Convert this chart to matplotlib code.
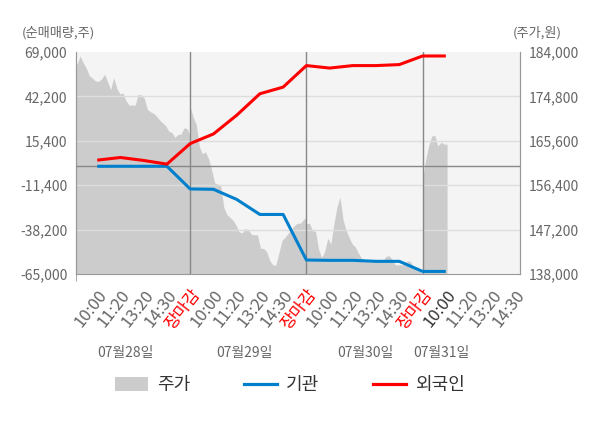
import numpy as np
import matplotlib
matplotlib.use('Agg')
import matplotlib.pyplot as plt
from matplotlib.patches import Patch
from matplotlib.lines import Line2D
import matplotlib.transforms as mtransforms

plt.rcParams['font.family'] = ['Noto Sans CJK KR', 'DejaVu Sans']

# ---------------- data ----------------
tick_labels = ['10:00', '11:20', '13:20', '14:30', '장마감'] * 3 + ['10:00', '11:20', '13:20', '14:30']
dates = ['07월28일', '07월29일', '07월30일', '07월31일']
date_pos = [2.2, 7.35, 12.55, 15.8]

price_d1 = [182500, 181400, 183200, 181800, 180700, 179100, 178600, 178000, 177900, 178400,
            179400, 177800, 176200, 178700, 176500, 175300, 175500, 173900, 173000, 173000,
            173000, 175200, 175100, 174400, 172100, 171600, 171300, 170700, 169900, 169300,
            168700, 167600, 167300, 166300, 166900, 167000, 168300, 168100, 166600]
price_d2 = [172700, 170400, 169000, 164400, 162900, 163300, 161900, 159600, 156900, 156600,
            156200, 151800, 150300, 149700, 149100, 148100, 146700, 146500, 147400, 147200,
            146200, 146100, 146100, 143300, 143300, 142600, 140800, 139900, 139800, 142300,
            144900, 145600, 146400, 147100, 148000, 148500, 148500, 149200, 149800]
price_d3 = [148400, 148500, 147000, 146800, 143100, 141400, 142700, 145400, 144200, 148300,
            151900, 153900, 149200, 147000, 145500, 144200, 143600, 142300, 141300, 141000,
            140700, 140400, 140900, 140800, 140600, 140600, 141600, 141800, 141000, 139900,
            139900, 139900, 139900, 140700, 140600, 139400, 138800, 138500, 138000]
price_d4 = [157600, 161700, 164600, 166600, 166700, 164500, 165300, 164900, 164900]

institution = [0, 0, 0, 0, -13700, -13900, -20000, -29100, -29100, -56600,
               -56800, -56800, -57400, -57400, -63500, -63500]
foreign = [3700, 5300, 3500, 1300, 13700, 19500, 30800, 43800, 47800, 60800,
           59300, 60800, 60800, 61400, 66600, 66600]

left_ticks = [-65000, -38200, -11400, 15400, 42200, 69000]
right_ticks = [138000, 147200, 156400, 165600, 174800, 184000]

# ---------------- figure ----------------
fig = plt.figure(figsize=(6.0, 4.28), dpi=100)
ax_p = fig.add_axes([0.126, 0.360, 0.741, 0.5185])
ax_n = ax_p.twinx()

GREY_TXT = '#666666'
SPINE = '#999999'

# price area (right axis)
per_day = len(price_d1)
step = 5.0 / (per_day - 1)
xs = []
ys = []
for d, arr in enumerate([price_d1, price_d2, price_d3]):
    xs.extend(d * 5 + np.arange(len(arr)) * step)
    ys.extend(arr)
xs.extend(15 + np.arange(len(price_d4)) * step)
ys.extend(price_d4)
ax_p.fill_between(xs, ys, right_ticks[0], color='#cccccc', linewidth=0, zorder=1)
ax_p.set_facecolor('#f4f4f4')
ax_p.set_ylim(right_ticks[0], right_ticks[-1])
ax_p.set_yticks(right_ticks)
ax_p.set_yticklabels([f'{v:,}' for v in right_ticks])
ax_p.yaxis.tick_right()

# net-buy lines (left axis)
ax_n.yaxis.tick_left()
ax_n.set_ylim(left_ticks[0], left_ticks[-1])
ax_n.set_yticks(left_ticks)
ax_n.set_yticklabels([f'{v:,}' for v in left_ticks])
for v in left_ticks[1:-1]:
    ax_n.axhline(v, color='#dddddd', lw=1.0, zorder=2)
ax_n.axhline(0, color='#888888', lw=1.0, zorder=3)
for b in [5, 10, 15]:
    ax_n.axvline(b, color='#888888', lw=1.0, zorder=3)

slots = np.arange(1, len(foreign) + 1)
ax_n.plot(slots, institution, color='#0080cc', lw=2.2, zorder=5, solid_capstyle='butt')
ax_n.plot(slots, foreign, color='#ff0000', lw=2.2, zorder=6, solid_capstyle='butt')

# x axis
ax_p.set_xlim(0.07, 19.2)
tick_pos = np.arange(1, len(tick_labels) + 1)
ax_p.set_xticks(tick_pos)
ax_p.set_xticklabels(tick_labels, rotation=52, ha='right', va='top', rotation_mode='anchor')
ax_p.set_xticks([0.07, 5, 10, 15], minor=True)
ax_p.tick_params(axis='x', which='major', length=0, pad=9, labelsize=12, labelcolor=GREY_TXT)
ax_p.tick_params(axis='x', which='minor', length=5, color=SPINE)
for lbl, txt in zip(ax_p.get_xticklabels(), tick_labels):
    if txt == '장마감':
        lbl.set_color('#ff0000')
ax_p.get_xticklabels()[15].set_color('#333333')

ax_p.tick_params(axis='y', length=0, pad=6, labelsize=10, labelcolor=GREY_TXT)
ax_n.tick_params(axis='y', length=0, pad=6, labelsize=10, labelcolor=GREY_TXT)

for a in (ax_p, ax_n):
    a.spines['top'].set_visible(False)
    for s in ('left', 'right', 'bottom'):
        a.spines[s].set_color(SPINE)
ax_n.spines['bottom'].set_visible(False)

# date labels
trans = mtransforms.blended_transform_factory(ax_p.transData, fig.transFigure)
for p, t in zip(date_pos, dates):
    ax_p.text(p, 0.175, t, transform=trans, ha='center', va='center', fontsize=10, color=GREY_TXT)

# axis titles
fig.text(0.037, 0.923, '(순매매량,주)', ha='left', va='center', fontsize=9.5, color=GREY_TXT)
fig.text(0.937, 0.923, '(주가,원)', ha='right', va='center', fontsize=9.5, color=GREY_TXT)

# legend
handles = [Patch(facecolor='#cccccc', edgecolor='none'),
           Line2D([], [], color='#0080cc', lw=2.3),
           Line2D([], [], color='#ff0000', lw=2.3)]
fig.legend(handles, ['주가', '기관', '외국인'], loc='center', bbox_to_anchor=(0.483, 0.10),
           ncol=3, frameon=False, fontsize=13, handlelength=1.8, handleheight=0.8,
           handletextpad=0.5, columnspacing=3.0, labelcolor='#333333')

fig.savefig('out.png', dpi=100)
